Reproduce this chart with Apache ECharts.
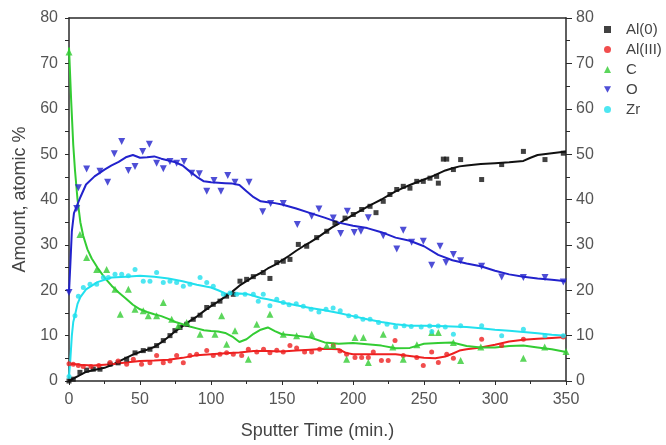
<!DOCTYPE html>
<html><head><meta charset="utf-8">
<script src="https://cdn.jsdelivr.net/npm/echarts@6/dist/echarts.min.js"></script>
<style>html,body{margin:0;padding:0;background:#fff}#c{width:666px;height:445px}</style>
</head><body><div id="c"></div>
<script>
const xTicks = [0,50,100,150,200,250,300,350];
const yTicks = [0,10,20,30,40,50,60,70,80];
const seriesNames = ['Al(0)','Al(III)','C','O','Zr'];

const al0Points = [[0,0],[3,0.4],[7.7,1.9],[12.4,2.4],[17.1,2.6],[21.8,2.6],[28.9,3.7],[34.6,4.0],[40.6,4.8],[46.5,6.2],[52.3,6.7],[57,7.0],[61.7,7.8],[66.4,8.9],[71.1,10.0],[74.6,11.1],[78.2,11.8],[82.9,12.5],[87.5,13.6],[92.3,14.5],[97,16.2],[101.6,16.9],[106.3,17.6],[111,18.7],[115.7,19.1],[120.4,22],[125.1,22.4],[129.8,23],[136.8,23.9],[141.5,22.6],[146.3,26.1],[150.9,26.4],[155.6,26.8],[161.5,30.1],[167.4,29.7],[174.4,31.6],[181.5,33],[187.3,34.8],[194.4,35.9],[200.2,36.7],[206.1,37.8],[212,38.5],[216.2,37.1],[221.3,39.6],[226,41.1],[230.8,42.2],[235.4,42.9],[240.1,42.5],[244.9,44],[249.5,44],[254.2,44.7],[258.9,45.1],[260.1,43.6],[263.6,48.9],[266,48.9],[270.7,46.6],[275.8,48.8],[290.6,44.4],[304.7,47.7],[320,50.6],[335.2,48.8],[348.1,50.2]];
const al0Fit = [[0,0],[3,0.5],[7,1.2],[12,2],[16,2.3],[25,2.9],[30,3.5],[37,4.6],[45,5.8],[50,6.4],[55,6.9],[60,7.5],[65,8.5],[70,9.7],[75,11],[80,12.1],[85,13.2],[90,14.2],[95,15.4],[100,16.5],[105,17.5],[110,18.6],[115,19.7],[120,21],[125,22],[130,23],[135,23.8],[140,24.8],[145,25.6],[150,26.6],[155,27.6],[160,28.7],[165,29.7],[170,30.6],[175,31.6],[180,32.7],[185,33.8],[190,34.7],[195,35.7],[200,36.6],[205,37.5],[210,38.4],[215,39.2],[220,40],[225,40.9],[230,41.8],[235,42.5],[240,43.2],[245,43.8],[250,44.4],[255,45],[260,45.7],[265,46.4],[270,46.9],[275,47.3],[280,47.5],[290,47.8],[300,48],[310,48.2],[320,48.5],[325,49.2],[330,49.8],[340,50.2],[350,50.6]];

const al3Points = [[0,3.8],[3,3.7],[6.6,3.4],[10,3.2],[15.5,3.2],[21,3.4],[28.9,4.1],[34.6,4.4],[40.6,3.7],[45.3,4.8],[51.1,3.7],[57,4.0],[61.7,5.6],[66.4,4.0],[71.1,4.4],[75.8,5.6],[80.5,4.0],[85.2,5.6],[89.9,5.9],[97,6.7],[101.6,5.6],[106.3,5.9],[111,6.2],[115.7,5.9],[121.6,5.6],[126.3,7.0],[132.2,6.4],[137,7],[141.5,6.2],[146.3,6.8],[150.9,6.4],[155.6,7.8],[160.3,7.3],[165.9,6.4],[170.9,6.4],[176.5,7],[186.1,7.8],[190.8,6.6],[195.5,5.9],[201.4,5.2],[206.1,5.2],[210.8,5.2],[214.3,6.4],[220,4.5],[224.8,4.5],[229.6,8.9],[235.4,5.6],[244.9,5.2],[249.5,3.4],[255.4,6.4],[260.1,4.1],[266,5.9],[270.7,5.0],[290.6,9.2],[304.7,7.8],[320,9.2],[348.1,9.7]];
const al3Fit = [[0,3.8],[5,3.7],[10,3.5],[17,3.4],[25,3.6],[30,3.7],[40,4.1],[50,4.4],[60,4.5],[70,4.7],[80,5.1],[90,5.7],[100,5.9],[110,6.1],[120,6.3],[130,6.6],[140,6.6],[150,6.5],[160,6.7],[170,6.9],[180,7.1],[190,7],[195,6.2],[200,5.9],[210,5.9],[220,5.9],[230,5.9],[240,5.5],[250,5.1],[258,5],[265,5.4],[270,6],[275,6.7],[280,7],[290,7.4],[300,8],[310,8.7],[320,9.1],[330,9.3],[340,9.5],[350,9.7]];

const cPoints = [[0,72.5],[7.7,32.3],[12.4,27.2],[19.5,24.6],[26.5,24.6],[32.4,20.2],[36.1,14.7],[41.8,20.2],[46.5,15.8],[52.3,15.5],[55.8,14.4],[61.7,14.4],[66.4,17.3],[72.3,13.6],[77,12.2],[82.9,12.9],[92.3,10.3],[102.8,10.3],[107.5,14.4],[111,8.1],[116.9,11.1],[126.3,4.8],[132.2,12.5],[141.5,14.7],[150.9,10.3],[160.3,10],[170.9,10.3],[181.5,7.8],[186,7.8],[195.5,4.8],[201.4,9.6],[207.3,9.6],[210.8,4.1],[221.3,10.3],[228,7.5],[235.4,4.8],[245,8],[255.4,10.7],[260.1,10.7],[270.7,8.5],[275.8,4.5],[290,7.5],[320,5],[335,7.5],[350,6.5]];
const cFit = [[0,73.5],[1.5,62],[3,52],[4.2,46.5],[6,40],[8,35],[10,32],[13,29],[16,27],[20,25],[25,22.8],[30,21],[35,19.5],[40,18.2],[45,16.8],[50,15.8],[55,15.2],[60,14.7],[65,14.3],[70,13.7],[75,13],[80,12.5],[85,12],[90,11.6],[95,11.2],[100,11],[105,10.9],[110,10.6],[115,9.8],[120,8.6],[125,9.2],[130,10.4],[135,11.3],[140,11.8],[145,11],[150,10.3],[160,10],[170,9.6],[180,8.5],[190,8.2],[200,8.4],[210,8.1],[220,7.8],[230,7.2],[240,7.3],[250,8.2],[260,8.4],[270,8.5],[280,7.7],[290,7.4],[300,7.4],[310,7.7],[320,7.8],[330,7.4],[340,7],[350,6.4]];

const oPoints = [[0,19.5],[5.4,38],[6.6,42.6],[12.4,46.7],[21.8,46.2],[27.2,43.8],[31.9,50.1],[37.1,52.8],[41.8,46.4],[46.5,47.3],[51.9,50.6],[56.6,52.2],[61.7,48.0],[66.4,46.8],[71.1,48.4],[75.8,48.0],[81,48.4],[86.4,45.8],[91.8,45.7],[97,41.8],[102.1,44.2],[107,41.8],[111.8,45.3],[116.9,43.8],[126.8,43.8],[136.4,37.3],[142,39.1],[150.9,39.1],[160.8,34.5],[170.9,36.3],[176,37.9],[186.1,35.9],[191.3,32.5],[196,37.4],[200.9,32.7],[205.6,33],[210.8,36],[221.3,32],[230.8,29.1],[235.4,33.2],[241.3,30.6],[249.5,30.8],[255.4,25.5],[261.3,29.7],[265.5,26.1],[270.7,27.9],[275.8,26.5],[290.6,25.3],[304.7,22.9],[320,22.8],[335.2,22.8],[348.1,21.8]];
const oFit = [[0,19.5],[1,26],[2,33],[3.5,37],[5.4,38.5],[8,40.5],[12,43.3],[18,45.1],[25,46.6],[30,47.5],[35,48.3],[40,49.3],[45,49.8],[50,49.2],[55,49.3],[60,49.5],[65,49],[70,48.6],[75,48.2],[80,47.5],[85,46.2],[90,45],[95,44],[100,43.8],[105,43.7],[110,43.6],[115,43.5],[120,43.2],[125,41.8],[130,40.5],[135,39.6],[140,39.4],[145,39.2],[150,38.9],[160,38],[170,37],[180,36],[190,34.9],[200,34.2],[210,33.7],[220,32.8],[230,31.6],[240,30.9],[250,29.7],[260,27.8],[270,26.6],[280,25.9],[290,25.3],[300,24.3],[310,23.5],[320,23],[330,22.6],[340,22.3],[350,22]];

const zrPoints = [[0,1],[4.2,14.4],[6.6,18.7],[10.1,20.6],[14.8,21.3],[19.5,21.3],[24.2,22.8],[27.7,22.8],[32.4,23.5],[37.1,23.5],[41.8,23.2],[46.5,24.6],[52.3,22],[57,22],[61.7,23.9],[66.4,21.7],[71.1,22],[75.8,21.7],[80.5,20.9],[85.2,21.3],[92.3,22.8],[97,21.7],[101.6,20.9],[108.7,19.1],[113.4,19.4],[118.1,19.1],[124,19.1],[129.8,19.1],[133.3,17.6],[136.8,19.1],[141.5,16.6],[146.3,18],[150.9,17.3],[155,16.8],[160,17],[165,16.5],[170.5,15.8],[176,15.2],[181,15.8],[186,16.1],[191,15.5],[197,14.4],[202,14.2],[207,13.6],[212,13.6],[218,12.9],[224,12.5],[230,11.9],[236,12.2],[241,12],[248,11.9],[254,12.1],[255.5,10.9],[260,12.1],[265,11.9],[270.7,10.3],[275.8,12.2],[290.6,12.2],[304.7,10],[320,11.4],[335.2,10],[348.1,10]];
const zrFit = [[0,1],[1,5],[2,10],[3,13],[4.2,14.5],[6,17],[8,18.5],[12,20.2],[20,21.8],[30,22.8],[40,23],[50,23.2],[60,23],[70,22.6],[80,22],[90,21.2],[100,20.6],[105,20],[110,19.3],[115,19.2],[120,19.3],[125,19.2],[130,18.8],[135,18.3],[140,18],[150,17.3],[160,16.7],[170,16.1],[180,15.6],[190,15],[200,14.3],[210,13.6],[220,13],[230,12.5],[240,12.2],[250,12.2],[260,12.1],[270,12],[280,11.9],[290,11.6],[300,11.3],[310,11.1],[320,10.8],[330,10.5],[340,10.2],[350,10]];

const colors = ['#111111','#ee2020','#33cc33','#2222cc','#22e0ee'];
const symbols = ['rect','circle','triangle','path://M0,0L10,0L5,9Z','circle'];
const sizes = [5,5,7,7,5];
const pointSets = [al0Points, al3Points, cPoints, oPoints, zrPoints];
const fitSets = [al0Fit, al3Fit, cFit, oFit, zrFit];

const font = 'Liberation Sans, Arial, sans-serif';
const axisCol = '#2a2a2a';
const labelCol = '#555';

const series = [];
fitSets.forEach((d,i)=>{
  series.push({name: seriesNames[i]+' fit', type:'line', data:d, showSymbol:false, symbol:'none',
    lineStyle:{color:colors[i], width:2}, z:2, silent:true});
});
pointSets.forEach((d,i)=>{
  series.push({name: seriesNames[i], type:'scatter', data:d, symbol:symbols[i],
    symbolSize: sizes[i], itemStyle:{color:colors[i]}, z:3});
});

const chart = echarts.init(document.getElementById('c'));
chart.setOption({
  backgroundColor:'#fff',
  animation:false,
  textStyle:{fontFamily:font},
  grid:{left:69, right:100, top:18, bottom:63},
  legend:{orient:'vertical', left:599, top:17, itemWidth:7, itemHeight:7, itemGap:5,
    data:seriesNames, textStyle:{fontFamily:font, fontSize:15, color:'#444', padding:[0,0,0,10]}},
  xAxis:[{type:'value', min:0, max:350, interval:50, position:'bottom',
    name:'Sputter Time (min.)', nameLocation:'middle', nameGap:41,
    nameTextStyle:{fontFamily:font, fontSize:18, color:'#444'},
    axisLine:{onZero:false, lineStyle:{color:axisCol, width:1.5}},
    axisTick:{show:true, inside:false, length:4, lineStyle:{color:axisCol}},
    minorTick:{show:true, splitNumber:2, length:3, lineStyle:{color:axisCol}},
    axisLabel:{margin:11, fontSize:16, color:labelCol, fontFamily:font},
    splitLine:{show:false}},
   {type:'value', min:0, max:350, position:'top',
    axisLine:{onZero:false, lineStyle:{color:axisCol, width:1.5}},
    axisTick:{show:false}, axisLabel:{show:false}, splitLine:{show:false}}],
  yAxis:[{type:'value', min:0, max:80, interval:10, position:'left',
    name:'Amount, atomic %', nameLocation:'middle', nameGap:40, nameRotate:90,
    nameTextStyle:{fontFamily:font, fontSize:18, color:'#444'},
    axisLine:{show:true, onZero:false, lineStyle:{color:axisCol, width:1.5}},
    axisTick:{show:true, length:4, lineStyle:{color:axisCol}},
    minorTick:{show:true, splitNumber:2, length:4, lineStyle:{color:axisCol}},
    axisLabel:{margin:11, fontSize:16, color:labelCol, fontFamily:font},
    splitLine:{show:false}},
   {type:'value', min:0, max:80, interval:10, position:'right',
    axisLine:{show:true, onZero:false, lineStyle:{color:axisCol, width:1.5}},
    axisTick:{show:true, length:6, lineStyle:{color:axisCol}},
    minorTick:{show:true, splitNumber:2, length:4, lineStyle:{color:axisCol}},
    axisLabel:{margin:10, fontSize:16, color:labelCol, fontFamily:font},
    splitLine:{show:false}}],
  series: series
});
</script></body></html>
